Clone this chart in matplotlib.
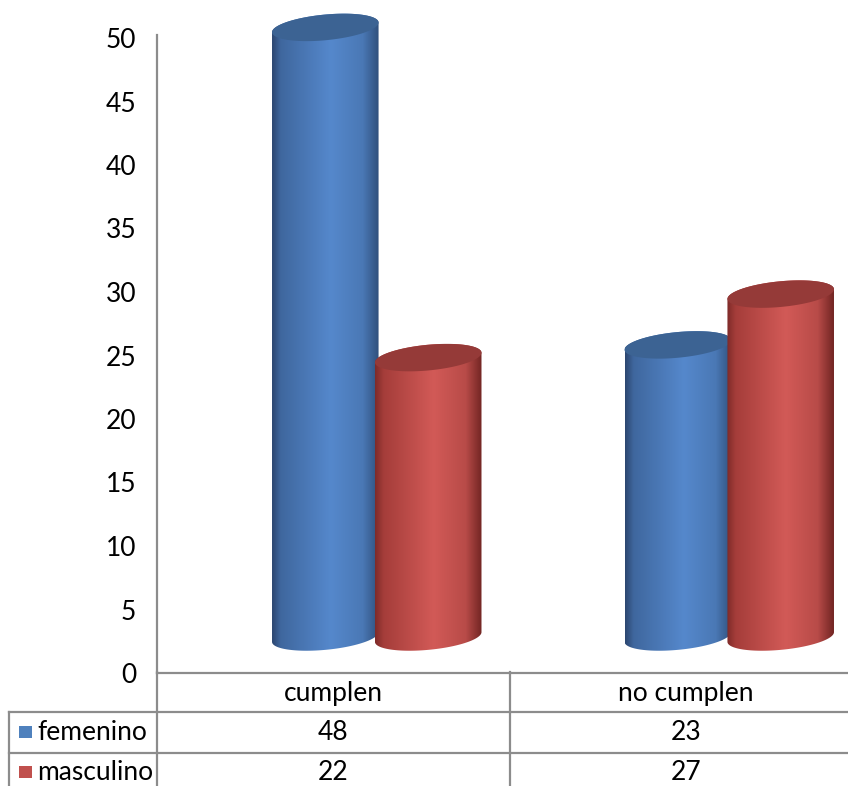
import numpy as np
import matplotlib
matplotlib.use("Agg")
import matplotlib.pyplot as plt
from matplotlib.patches import Polygon, Rectangle
from matplotlib.colors import LinearSegmentedColormap
from matplotlib.lines import Line2D

# ---- data ----
categories = ["cumplen", "no cumplen"]
series_names = ["femenino", "masculino"]
femenino = [48, 23]
masculino = [22, 27]
y_ticks = [0, 5, 10, 15, 20, 25, 30, 35, 40, 45, 50]

# ---- styling ----
plt.rcParams["font.family"] = ["Lato", "DejaVu Sans"]
FS = 19
GRID_GRAY = "#8c8c8c"
side_colors = {
    "femenino": ["#2c4670", "#3f679e", "#5588cc", "#4a78b5", "#30507c"],
    "masculino": ["#7e2b29", "#a53d3a", "#d25a57", "#b84b48", "#722523"],
}
cap_colors = {"femenino": "#3c6393", "masculino": "#953a38"}
legend_colors = {"femenino": "#4f81bd", "masculino": "#c0504d"}
stops = [0.0, 0.08, 0.55, 0.85, 1.0]

W, H = 848, 786
fig = plt.figure(figsize=(W / 100, H / 100), dpi=100)
fig.patch.set_facecolor("white")

# plot area in pixel terms (top-left origin); the axes reach the top edge
# so the cylinder caps are not clipped, the value axis line stops at px_top
px_left, px_right = 157, 862
px_top, px_zero = 35, 673
unit_px = 12.7
ax = fig.add_axes([px_left / W, (H - px_zero) / H,
                   (px_right - px_left) / W, px_zero / H])
ymax = px_zero / unit_px
ax.set_xlim(0, len(categories))
ax.set_ylim(0, ymax)
ax.set_facecolor("none")
for s in ["top", "right"]:
    ax.spines[s].set_visible(False)
for s in ["left", "bottom"]:
    ax.spines[s].set_color(GRID_GRAY)
    ax.spines[s].set_linewidth(1.6)
ax.spines["left"].set_bounds(0, (px_zero - px_top) / unit_px)
ax.set_xticks([])
ax.set_yticks(y_ticks)
ax.set_yticklabels([str(t) for t in y_ticks], fontsize=FS)
ax.tick_params(axis="y", length=0, pad=15)

# depth offset of the 3-D floor (pixels) and cylinder geometry
DX, DY = 43.5, 36.0
A, B = 53.5, 12.8
theta = np.deg2rad(5.5)
bar_off = 0.146


def ellipse(cx, cy, t):
    ex, ey = A * np.cos(t), B * np.sin(t)
    x = cx + ex * np.cos(theta) - ey * np.sin(theta)
    y = cy + ex * np.sin(theta) + ey * np.cos(theta)
    return np.column_stack([x, y])


t0 = np.arctan(-(B / A) * np.tan(theta))
inv = ax.transData.inverted()


def cylinder(xc, value, name, z):
    bx, by = ax.transData.transform((xc, 0)) + np.array([DX, DY])
    tx, ty = ax.transData.transform((xc, value)) + np.array([DX, DY])
    low = ellipse(bx, by, np.linspace(t0 + np.pi, t0 + 2 * np.pi, 80))
    up = ellipse(tx, ty, np.linspace(t0, t0 + np.pi, 80))
    body = inv.transform(np.vstack([low, up]))
    poly = Polygon(body, closed=True, facecolor="none", edgecolor="none",
                   zorder=z)
    ax.add_patch(poly)
    cmap = LinearSegmentedColormap.from_list(
        name, list(zip(stops, side_colors[name])))
    grad = np.linspace(0, 1, 256)[None, :]
    x0, x1 = body[:, 0].min(), body[:, 0].max()
    y0, y1 = body[:, 1].min(), body[:, 1].max()
    im = ax.imshow(grad, cmap=cmap, extent=[x0, x1, y0, y1], aspect="auto",
                   interpolation="bilinear", zorder=z)
    im.set_clip_path(poly)
    cap = inv.transform(ellipse(tx, ty, np.linspace(0, 2 * np.pi, 160)))
    ax.add_patch(Polygon(cap, closed=True, facecolor=cap_colors[name],
                         edgecolor="none", zorder=z + 0.5))


z = 2
for i, cat in enumerate(categories):
    xc = i + 0.5
    cylinder(xc - bar_off, femenino[i], "femenino", z)
    cylinder(xc + bar_off, masculino[i], "masculino", z + 1)
    z += 2
ax.set_xlim(0, len(categories))
ax.set_ylim(0, ymax)

# ---- data table under the plot ----
tb = fig.add_axes([0, 0, 1, 1])
tb.set_xlim(0, W)
tb.set_ylim(H, 0)
tb.axis("off")
col_w = (px_right - px_left) / len(categories)
row_lines = [672, 712, 753]
left_edge = 9
lw = 1.6


def hline(y, x0, x1):
    tb.add_line(Line2D([x0, x1], [y, y], color=GRID_GRAY, lw=lw))


def vline(x, y0, y1):
    tb.add_line(Line2D([x, x], [y0, y1], color=GRID_GRAY, lw=lw))


hline(row_lines[1], left_edge, W)
hline(row_lines[2], left_edge, W)
vline(left_edge, row_lines[1], H)
vline(px_left, row_lines[0], H)
for k in range(1, len(categories) + 1):
    vline(px_left + k * col_w, row_lines[0], H)

for i, cat in enumerate(categories):
    cx = px_left + (i + 0.5) * col_w
    tb.text(cx, 694, cat, ha="center", va="center", fontsize=FS)
    tb.text(cx, 732, str(femenino[i]), ha="center", va="center", fontsize=FS)
    tb.text(cx, 772, str(masculino[i]), ha="center", va="center", fontsize=FS)

for name, yc in zip(series_names, [732, 772]):
    tb.add_patch(Rectangle((19, yc - 6), 13, 12,
                           facecolor=legend_colors[name], edgecolor="none"))
    tb.text(37, yc, name, ha="left", va="center", fontsize=FS)

fig.savefig("out.png", dpi=100, facecolor="white")
